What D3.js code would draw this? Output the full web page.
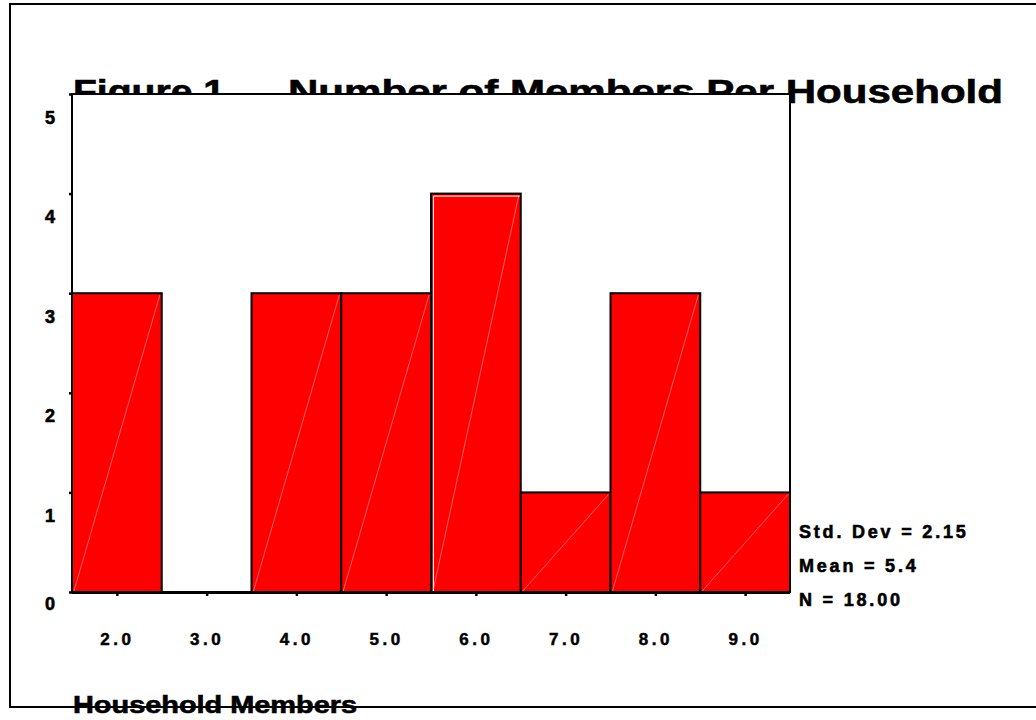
<!DOCTYPE html>
<html>
<head>
<meta charset="utf-8">
<script src="https://cdn.jsdelivr.net/npm/d3@7"></script>
<style>
  body { margin: 0; background: #fff; }
  text { font-family: "Liberation Sans", Arial, sans-serif; font-weight: bold; }
</style>
</head>
<body>
<div id="canvas"></div>
<script>
"use strict"

/* data */
let members = [2, 3, 4, 5, 6, 7, 8, 9];
let counts = [3, 0, 3, 3, 4, 1, 3, 1];
let countTicks = [0, 1, 2, 3, 4, 5];
let statLines = ["Std. Dev = 2.15", "Mean = 5.4", "N = 18.00"];

let drawing = d3.select("#canvas")
    .append("svg")
    .attr("width", 1036)
    .attr("height", 720);

/* outer border (right side runs off the page) */
drawing.append("rect")
    .attr("x", 10)
    .attr("y", 4)
    .attr("width", 1040)
    .attr("height", 703)
    .attr("fill", "none")
    .attr("stroke", "black")
    .attr("stroke-width", 2);

/* scales */
let x = d3.scaleLinear().domain([1.5, 9.5]).range([72, 790]);
let y = d3.scaleLinear().domain([0, 5]).range([592, 94]);

/* title, partly hidden behind the plot frame */
drawing.append("text")
    .attr("x", 73)
    .attr("y", 103)
    .attr("font-size", 33)
    .attr("stroke", "black")
    .attr("stroke-width", 0.6)
    .attr("textLength", 152)
    .attr("lengthAdjust", "spacingAndGlyphs")
    .text("Figure 1");

drawing.append("text")
    .attr("x", 288)
    .attr("y", 103)
    .attr("font-size", 33)
    .attr("stroke", "black")
    .attr("stroke-width", 0.6)
    .attr("textLength", 715)
    .attr("lengthAdjust", "spacingAndGlyphs")
    .text("Number of Members Per Household");

/* plot frame */
drawing.append("rect")
    .attr("x", x(1.5))
    .attr("y", y(5))
    .attr("width", x(9.5) - x(1.5))
    .attr("height", y(0) - y(5))
    .attr("fill", "white")
    .attr("stroke", "black")
    .attr("stroke-width", 2);

/* bars */
let binW = x(2.5) - x(1.5);
let bins = members.map((m, i) => ({ m: m, n: counts[i] })).filter(d => d.n > 0);

let bars = drawing.append("g");

bars.selectAll("rect")
    .data(bins)
    .join("rect")
    .attr("x", d => x(d.m - 0.5))
    .attr("y", d => y(d.n))
    .attr("width", binW)
    .attr("height", d => y(0) - y(d.n))
    .attr("fill", "#ff0000")
    .attr("stroke", "black")
    .attr("stroke-width", 2);

/* faint diagonal inside each bar */
bars.selectAll("line.diag")
    .data(bins)
    .join("line")
    .attr("class", "diag")
    .attr("x1", d => x(d.m - 0.5) + 2)
    .attr("y1", y(0) - 1)
    .attr("x2", d => x(d.m + 0.5) - 2)
    .attr("y2", d => y(d.n) + 2)
    .attr("stroke", "#ff7a7a")
    .attr("stroke-width", 0.8);

/* white highlight on the tallest bar */
let tallest = bins.reduce((a, b) => (b.n > a.n ? b : a));
bars.append("path")
    .attr("d", "M" + (x(tallest.m - 0.5) + 2.5) + "," + y(0) +
        "V" + (y(tallest.n) + 2.5) + "H" + (x(tallest.m + 0.5) - 1))
    .attr("fill", "none")
    .attr("stroke", "white")
    .attr("stroke-width", 1);

/* thicker baseline */
drawing.append("line")
    .attr("x1", x(1.5))
    .attr("x2", x(9.5))
    .attr("y1", y(0) + 0.5)
    .attr("y2", y(0) + 0.5)
    .attr("stroke", "black")
    .attr("stroke-width", 3);

/* y axis */
let yAxis = drawing.append("g")
    .attr("transform", "translate(" + x(1.5) + ",0)")
    .call(d3.axisLeft(y).tickValues(countTicks).tickFormat(d3.format("d"))
        .tickSize(3).tickPadding(14));
yAxis.select(".domain").remove();
yAxis.selectAll("line").attr("stroke-width", 2.5);
yAxis.selectAll("text")
    .attr("font-size", 18)
    .attr("font-family", "Liberation Sans, Arial, sans-serif")
    .attr("fill", "black")
    .attr("stroke", "black")
    .attr("stroke-width", 0.6)
    .attr("dy", d => (d === 0 ? "0.95em" : "1.62em"));

/* x axis */
let xAxis = drawing.append("g")
    .attr("transform", "translate(0," + (y(0) + 1) + ")")
    .call(d3.axisBottom(x).tickValues(members).tickFormat(d3.format(".1f"))
        .tickSize(3).tickPadding(37));
xAxis.select(".domain").remove();
xAxis.selectAll("line").attr("stroke-width", 2.5);
xAxis.selectAll("text")
    .attr("font-size", 17)
    .attr("font-family", "Liberation Sans, Arial, sans-serif")
    .attr("fill", "black")
    .attr("stroke", "black")
    .attr("stroke-width", 0.5)
    .attr("letter-spacing", 3.5);

/* statistics */
drawing.append("g")
    .selectAll("text")
    .data(statLines)
    .join("text")
    .attr("x", 799)
    .attr("y", (d, i) => 538 + i * 34)
    .attr("font-size", 18)
    .attr("stroke", "black")
    .attr("stroke-width", 0.6)
    .attr("letter-spacing", 2.8)
    .text(d => d);

/* axis title */
drawing.append("text")
    .attr("x", 73)
    .attr("y", 713)
    .attr("font-size", 23)
    .attr("stroke", "black")
    .attr("stroke-width", 0.6)
    .attr("textLength", 284)
    .attr("lengthAdjust", "spacingAndGlyphs")
    .text("Household Members");
</script>
</body>
</html>
